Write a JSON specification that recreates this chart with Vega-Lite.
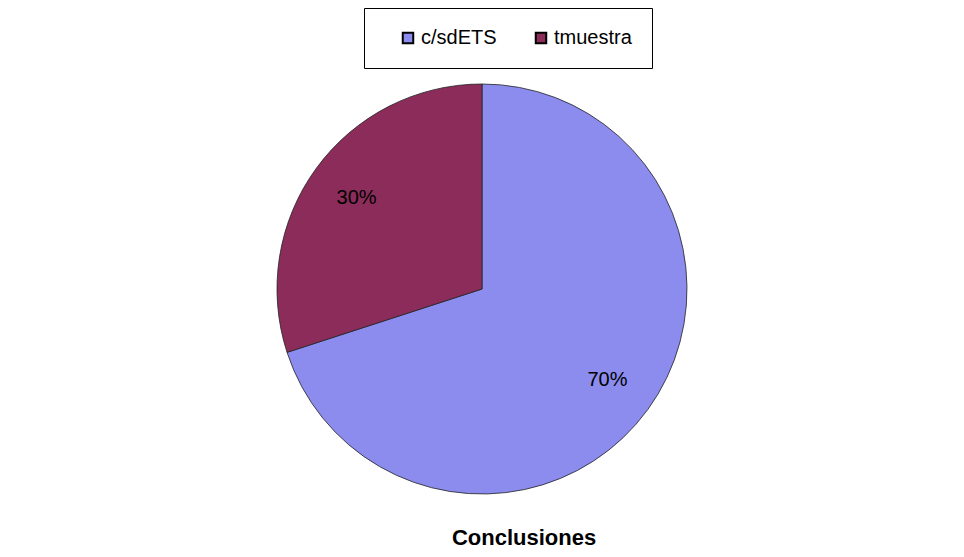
{
  "$schema": "https://vega.github.io/schema/vega-lite/v6.json",
  "width": 964,
  "height": 557,
  "autosize": {"type": "fit", "contains": "padding"},
  "padding": {"top": 70, "bottom": 8, "left": 0, "right": 0},
  "background": "white",
  "title": {"text": "Conclusiones", "orient": "bottom", "font": "Liberation Sans", "fontSize": 22, "fontWeight": "bold", "color": "black", "offset": 20, "dx": 42},
  "data": {"values": [
    {"serie": "c/sdETS", "valor": 70, "etiqueta": "70%", "orden": 1},
    {"serie": "tmuestra", "valor": 30, "etiqueta": "30%", "orden": 2}
  ]},
  "encoding": {
    "theta": {"field": "valor", "type": "quantitative", "stack": true},
    "order": {"field": "orden", "type": "quantitative"}
  },
  "layer": [
    {
      "mark": {"type": "arc", "outerRadius": 205, "stroke": "#222222", "strokeWidth": 0.8},
      "encoding": {
        "color": {
          "field": "serie", "type": "nominal",
          "scale": {"domain": ["c/sdETS", "tmuestra"], "range": ["#8B8CEE", "#8B2C5A"]},
          "legend": {"orient": "none", "legendX": 364, "legendY": -62, "direction": "horizontal", "title": null, "strokeColor": "black", "padding": 20, "labelFontSize": 20, "labelFont": "Liberation Sans", "labelColor": "black", "symbolType": "square", "symbolSize": 110, "symbolStrokeColor": "black", "symbolStrokeWidth": 2, "symbolOffset": 14, "columnPadding": 20, "labelOffset": 3}
        }
      }
    },
    {
      "mark": {"type": "text", "radius": 155, "font": "Liberation Sans", "fontSize": 20, "color": "black"},
      "encoding": {"text": {"field": "etiqueta", "type": "nominal"}}
    }
  ]
}
